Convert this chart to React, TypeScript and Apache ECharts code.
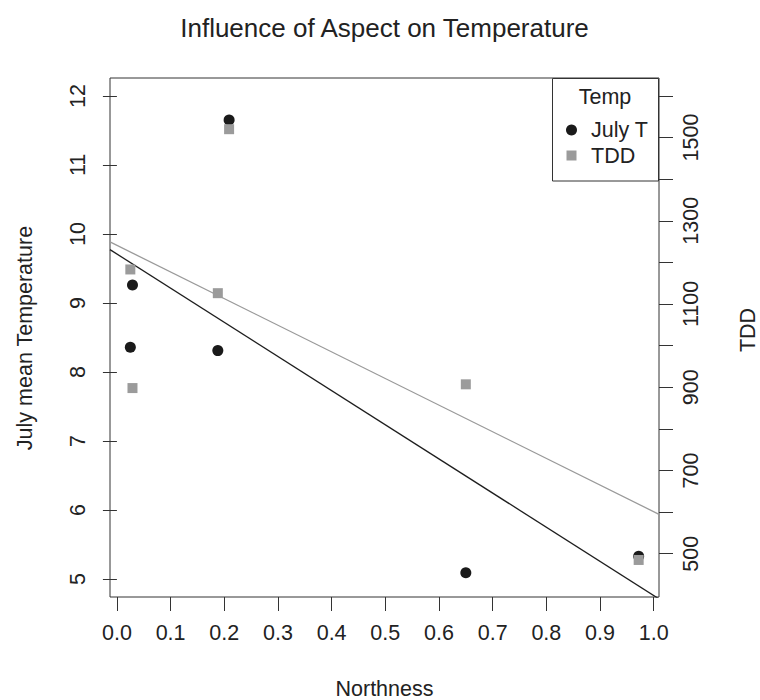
import React, { useEffect, useRef } from "react";
import * as echarts from "echarts";

// ---- data ----
const northness = [0.025, 0.029, 0.188, 0.209, 0.65, 0.972];
const julyT = [8.36, 9.26, 8.31, 11.65, 5.09, 5.33];
const tdd = [1183, 898, 1126, 1520, 907, 485];

const xTicks = [0.0, 0.1, 0.2, 0.3, 0.4, 0.5, 0.6, 0.7, 0.8, 0.9, 1.0];
const leftTicks = [5, 6, 7, 8, 9, 10, 11, 12];
const rightTicks = [500, 600, 700, 800, 900, 1000, 1100, 1200, 1300, 1400, 1500, 1600];
const rightLabels = [500, 700, 900, 1100, 1300, 1500];

const leftRange = [4.74, 12.26];
const rightRange = [396, 1643];

const titleText = "Influence of Aspect on Temperature";
const xName = "Northness";
const yName = "July mean Temperature";
const y2Name = "TDD";
const legendTitle = "Temp";
const seriesNames = ["July T", "TDD"];

const FONT = "Liberation Sans, Arial, sans-serif";
const FS = 21.5;

function linreg(xs: number[], ys: number[]) {
  const n = xs.length;
  const mx = xs.reduce((a, b) => a + b, 0) / n;
  const my = ys.reduce((a, b) => a + b, 0) / n;
  let sxy = 0;
  let sxx = 0;
  for (let i = 0; i < n; i++) {
    sxy += (xs[i] - mx) * (ys[i] - my);
    sxx += (xs[i] - mx) * (xs[i] - mx);
  }
  const b = sxy / sxx;
  return { a: my - b * mx, b };
}

export default function App() {
  const ref = useRef<HTMLDivElement>(null);
  useEffect(() => {
    if (!ref.current) return;
    const chart = echarts.init(ref.current, null, { renderer: "svg" });

    const xMinD = Math.min(...northness);
    const xMaxD = Math.max(...northness);
    const pad = 0.04 * (xMaxD - xMinD);
    const xmin = xMinD - pad;
    const xmax = xMaxD + pad;

    const r1 = linreg(northness, julyT);
    const r2 = linreg(northness, tdd);

    const G = { left: 110, right: 101, top: 78, bottom: 103 };

    const txt = (text: string, x: number, y: number, rot = 0, fs = FS) => ({
      type: "text",
      x,
      y,
      rotation: rot,
      style: {
        text,
        fontSize: fs,
        fontFamily: FONT,
        fill: "#222",
        textAlign: "center",
        textVerticalAlign: "middle",
      },
    });

    chart.setOption({
      animation: false,
      backgroundColor: "#ffffff",
      grid: {
        left: G.left,
        right: G.right,
        top: G.top,
        bottom: G.bottom,
        show: true,
        borderColor: "#333",
        borderWidth: 1,
        containLabel: false,
      },
      xAxis: {
        type: "value",
        min: xmin,
        max: xmax,
        axisLine: { show: false },
        splitLine: { show: false },
        axisTick: {
          show: true,
          length: 14,
          customValues: xTicks,
          lineStyle: { color: "#333", width: 1 },
        },
        axisLabel: {
          customValues: xTicks,
          formatter: (v: number) => v.toFixed(1),
          fontSize: FS,
          color: "#222",
          fontFamily: FONT,
          margin: 25,
        },
      },
      yAxis: [
        {
          type: "value",
          position: "left",
          min: leftRange[0],
          max: leftRange[1],
          axisLine: { show: false },
          splitLine: { show: false },
          axisTick: {
            show: true,
            length: 14,
            customValues: leftTicks,
            lineStyle: { color: "#333", width: 1 },
          },
          axisLabel: {
            customValues: leftTicks,
            formatter: (v: number) => String(v),
            rotate: 90,
            fontSize: FS,
            color: "#222",
            fontFamily: FONT,
            margin: 21,
          },
        },
        {
          type: "value",
          position: "right",
          min: rightRange[0],
          max: rightRange[1],
          axisLine: { show: false },
          splitLine: { show: false },
          axisTick: {
            show: true,
            length: 14,
            customValues: rightTicks,
            lineStyle: { color: "#333", width: 1 },
          },
          axisLabel: {
            customValues: rightLabels,
            formatter: (v: number) => String(v),
            rotate: 90,
            fontSize: FS,
            color: "#222",
            fontFamily: FONT,
            margin: 21,
          },
        },
      ],
      series: [
        {
          name: seriesNames[0] + " fit",
          type: "line",
          yAxisIndex: 0,
          data: [
            [xmin, r1.a + r1.b * xmin],
            [xmax, r1.a + r1.b * xmax],
          ],
          symbol: "none",
          clip: true,
          lineStyle: { color: "#1e1e1e", width: 1.3 },
          z: 3,
        },
        {
          name: seriesNames[1] + " fit",
          type: "line",
          yAxisIndex: 1,
          data: [
            [xmin, r2.a + r2.b * xmin],
            [xmax, r2.a + r2.b * xmax],
          ],
          symbol: "none",
          clip: true,
          lineStyle: { color: "#9a9a9a", width: 1.3 },
          z: 3,
        },
        {
          name: seriesNames[0],
          type: "scatter",
          yAxisIndex: 0,
          data: northness.map((x, i) => [x, julyT[i]]),
          symbol: "circle",
          symbolSize: 11,
          itemStyle: { color: "#1a1a1a", opacity: 1 },
          z: 4,
        },
        {
          name: seriesNames[1],
          type: "scatter",
          yAxisIndex: 1,
          data: northness.map((x, i) => [x, tdd[i]]),
          symbol: "rect",
          symbolSize: 10,
          itemStyle: { color: "#9b9b9b", opacity: 1 },
          z: 5,
        },
      ],
      graphic: [
        txt(titleText, 384.5, 28, 0, 26),
        txt(xName, 384.5, 689),
        txt(yName, 25, 338, Math.PI / 2),
        txt(y2Name, 748, 330, Math.PI / 2),
        {
          type: "group",
          z: 100,
          children: [
            {
              type: "rect",
              shape: { x: 552.5, y: 78.5, width: 106, height: 102.5 },
              style: { fill: "#fff", stroke: "#333", lineWidth: 1 },
            },
            txt(legendTitle, 605, 97),
            {
              type: "circle",
              shape: { cx: 571.5, cy: 130, r: 5.5 },
              style: { fill: "#1a1a1a" },
            },
            {
              type: "text",
              x: 591,
              y: 130,
              style: {
                text: seriesNames[0],
                fontSize: FS,
                fontFamily: FONT,
                fill: "#222",
                textAlign: "left",
                textVerticalAlign: "middle",
              },
            },
            {
              type: "rect",
              shape: { x: 566.5, y: 150.5, width: 10, height: 10 },
              style: { fill: "#9b9b9b" },
            },
            {
              type: "text",
              x: 591,
              y: 155.5,
              style: {
                text: seriesNames[1],
                fontSize: FS,
                fontFamily: FONT,
                fill: "#222",
                textAlign: "left",
                textVerticalAlign: "middle",
              },
            },
          ],
        },
      ],
    });
    return () => chart.dispose();
  }, []);
  return (
    <div
      ref={ref}
      style={{ position: "fixed", left: 0, top: 0, width: 760, height: 700, background: "#fff" }}
    />
  );
}
